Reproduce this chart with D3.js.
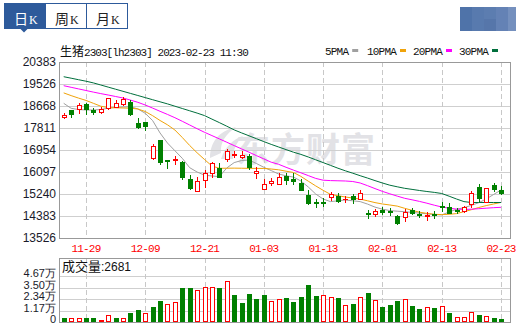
<!DOCTYPE html>
<html>
<head>
<meta charset="utf-8">
<script src="https://cdn.jsdelivr.net/npm/d3@7"></script>
<style>
body { margin: 0; background: #fff; }
svg { display: block; }
</style>
</head>
<body>
<div id="chart"></div>
<script>
// data
var dates = ["2022-11-24","2022-11-25","2022-11-28","2022-11-29","2022-11-30","2022-12-01","2022-12-02","2022-12-05","2022-12-06","2022-12-07",
    "2022-12-08","2022-12-09","2022-12-12","2022-12-13","2022-12-14","2022-12-15","2022-12-16","2022-12-19","2022-12-20","2022-12-21",
    "2022-12-22","2022-12-23","2022-12-26","2022-12-27","2022-12-28","2022-12-29","2022-12-30","2023-01-03","2023-01-04","2023-01-05",
    "2023-01-06","2023-01-09","2023-01-10","2023-01-11","2023-01-12","2023-01-13","2023-01-16","2023-01-17","2023-01-18","2023-01-19",
    "2023-01-20","2023-01-30","2023-01-31","2023-02-01","2023-02-02","2023-02-03","2023-02-06","2023-02-07","2023-02-08","2023-02-09",
    "2023-02-10","2023-02-13","2023-02-14","2023-02-15","2023-02-16","2023-02-17","2023-02-20","2023-02-21","2023-02-22","2023-02-23"];

var openP = [18230,18513,18540,18747,18501,18423,18579,18642,18735,18813,
    18006,18045,16631,17344,16565,16577,16487,15813,15369,15774,
    16070,16265,16592,16775,16670,16721,16047,15424,15657,15630,
    15953,15813,15681,15201,14929,14948,15112,15162,15034,15174,
    15034,14488,14461,14617,14562,14395,14332,14605,14469,14383,
    14473,14784,14734,14617,14566,14851,15525,14917,15579,15396];
var closeP = [18318,18357,18708,18564,18423,18540,18980,18774,18953,18357,
    17851,17901,17110,16499,16520,16604,15891,15474,15747,16047,
    16436,15903,16916,16799,16772,16304,16148,15618,15759,15914,
    15797,15759,15396,14901,14890,14909,15240,14968,15057,15034,
    15279,14461,14590,14551,14539,14098,14551,14488,14420,14440,
    14420,14745,14512,14578,14722,15291,15085,15462,15447,15267];
var highP = [18385,18530,18774,18798,18591,18618,18990,18891,19020,18903,
    18201,18060,17200,17350,16570,16721,16526,15981,15914,16175,
    16499,16436,16994,16916,16916,16799,16281,15813,15875,16047,
    16047,16047,15813,15396,15034,15073,15330,15291,15162,15240,
    15396,14617,14644,14722,14683,14422,14644,14683,14566,14551,
    14590,14929,14901,14683,14773,15369,15630,15465,15657,15552];
var lowP = [18220,18252,18384,18345,18345,18384,18570,18642,18708,18318,
    17800,17734,16620,16421,16265,16398,15825,15423,15369,15525,
    15903,15891,16538,16670,16660,16226,15852,15420,15579,15625,
    15630,15618,15390,14851,14746,14773,15007,14917,14940,14878,
    15030,14293,14383,14461,14422,14090,14200,14480,14332,14227,
    14293,14590,14488,14512,14527,14746,14956,14915,15369,15240];
var prevClose = 18400;

var volume = [4000,3700,3700,4000,4000,2400,6700,4000,3700,8700,
    11700,8700,15000,21800,18400,20400,34800,34800,32400,35400,
    35400,34800,41900,27800,18800,28800,23800,27800,21800,23800,
    24800,20800,25800,37900,26800,27800,25800,24800,16800,17800,
    25800,29100,22800,15100,16800,21100,23800,16100,12800,14800,
    13800,16400,9000,4700,4700,10300,6700,5700,4000,2681];

var ma5 = [18774,18579,18532,18513,18513,18532,18583,18614,18630,18641,
    18556,18384,18100,17617,17227,16927,16631,16265,16097,15973,
    15942,15918,16253,16464,16545,16565,16429,16281,16152,16019,
    15949,15899,15747,15513,15240,15045,14944,14975,15007,14975,
    14944,14847,14730,14648,14594,14570,14551,14523,14496,14469,
    14445,14426,14539,14644,14707,14796,14901,15045,15221,15396];
var ma10 = [19179,19074,18977,18887,18774,18661,18606,18599,18591,18583,
    18552,18454,18291,18104,17936,17734,17442,17130,16845,16584,
    16331,16242,16245,16248,16244,16240,16238,16235,16214,16183,
    16129,16078,15926,15739,15556,15384,15225,15174,15123,15084,
    15042,14975,14905,14851,14812,14769,14683,14605,14531,14485,
    14449,14438,14449,14477,14551,14629,14714,14788,14851,14913];
var ma20 = [19460,19397,19335,19273,19210,19152,19097,19039,18980,18899,
    18813,18708,18587,18462,18341,18213,18073,17929,17784,17644,
    17516,17387,17258,17126,16997,16869,16736,16608,16479,16397,
    16281,16171,16066,15957,15848,15778,15762,15755,15747,15727,
    15669,15564,15451,15342,15248,15158,15073,15014,14952,14882,
    14804,14734,14687,14652,14640,14648,14668,14687,14707,14722];
var ma30 = [19810,19752,19693,19635,19569,19487,19405,19323,19241,19160,
    19078,18996,18914,18832,18751,18661,18571,18482,18392,18295,
    18158,18022,17882,17738,17621,17508,17395,17282,17173,17071,
    16970,16869,16783,16682,16573,16464,16355,16245,16144,16051,
    15953,15860,15762,15669,15583,15521,15462,15420,15377,15338,
    15303,15260,15155,15045,14944,14909,14909,14909,14909,14909];

var priceTicks = [13526,14383,15240,16097,16954,17811,18668,19526,20383];
var volTicks = [0,11675,23350,35025,46700];
var volTickLabels = ["0","1.17万","2.34万","3.50万","4.67万"];
var dateTicks = ["2022-11-29","2022-12-09","2022-12-21","2023-01-03","2023-01-13","2023-02-01","2023-02-13","2023-02-23"];
var maNames = ["5PMA","10PMA","20PMA","30PMA"];
var tabNames = ["日","周","月"];

var RED = "#ff0000", GREEN = "#008000";
var maColors = ["#a0a0a0","#f0a30a","#ff00ff","#006f3c"];
var CJK = "'Noto Sans CJK SC', sans-serif";
var MONO = "'Liberation Mono', 'DejaVu Sans Mono', monospace";
var SANS = "'Liberation Sans', Arial, sans-serif";

var svgWidth = 516, svgHeight = 328;
var plotLeft = 59, plotRight = 510;
var priceTop = 62, priceBottom = 238;
var volFrameTop = 258, volTop = 276, volBottom = 322;

var svg = d3.select("#chart").append("svg")
    .attr("width", svgWidth)
    .attr("height", svgHeight);

// scales
var xScale = d3.scalePoint().domain(dates).range([63.7, 501]);
var yScale = d3.scaleLinear().domain([13526, 20383]).range([priceBottom, priceTop]);
var vScale = d3.scaleLinear().domain([0, 46700]).range([volBottom, volTop]);

function px(v) { return Math.round(v) + 0.5; }

// tabs
var tabs = svg.append("g");
tabNames.forEach(function(name, i) {
    var x0 = 4 + i * 41;
    tabs.append("rect")
        .attr("x", x0 + 0.5).attr("y", 3.5)
        .attr("width", 41).attr("height", 25)
        .attr("fill", i === 0 ? "#2d5a9b" : "#fff")
        .attr("stroke", "#2d5a9b");
    var t = tabs.append("text")
        .attr("x", x0 + 10).attr("y", 24)
        .attr("fill", i === 0 ? "#fff" : "#222");
    t.append("tspan").style("font-family", CJK).style("font-size", "14px").text(name);
    t.append("tspan").style("font-family", "'Liberation Serif', serif").style("font-size", "12px").attr("dx", 1).text("K");
});
tabs.append("path").attr("d", "M20.5,29 L27.5,29 L24,32.5 Z").attr("fill", "#2d5a9b");

// blurred corner image
var mosaic = [[460,7,12,24,"#4f73a9"],[472,7,12,24,"#587aae"],[484,7,12,12,"#5c7db0"],[484,19,12,12,"#5676aa"],
    [496,7,12,24,"#6482b5"],[508,7,8,24,"#7590be"]];
svg.append("g").selectAll("rect").data(mosaic).enter().append("rect")
    .attr("x", d => d[0]).attr("y", d => d[1]).attr("width", d => d[2]).attr("height", d => d[3])
    .attr("fill", d => d[4]);

// title
var title = svg.append("text").attr("x", 60).attr("y", 56).attr("fill", "#111");
title.append("tspan").style("font-family", CJK).style("font-size", "12px").text("生猪");
title.append("tspan").style("font-family", MONO).style("font-size", "11px").style("letter-spacing", "-0.95px")
    .text("2303[lh2303] 2023-02-23 11:30");

// MA legend
var legendX = [325, 367, 413, 459];
var legend = svg.append("g");
maNames.forEach(function(name, i) {
    legend.append("text")
        .attr("x", legendX[i]).attr("y", 55)
        .style("font-family", MONO).style("font-size", "11px").style("letter-spacing", "-0.8px")
        .attr("fill", "#111")
        .text(name);
    legend.append("rect")
        .attr("x", legendX[i] + name.length * 5.8 + 4).attr("y", 49)
        .attr("width", 6).attr("height", 3)
        .attr("fill", maColors[i]);
});

// watermark
var wm = svg.append("g").attr("fill", "#e2e2e6");
wm.append("path").attr("d", "M210,158 C210,142 219,131 236,127 C226,134 220,142 221,153 Z M221,159 C225,147 233,139 243,136 C236,143 233,150 233,159 Z");
wm.append("text")
    .attr("x", 236).attr("y", 162)
    .style("font-family", CJK).style("font-size", "34px").style("font-weight", "bold")
    .style("letter-spacing", "1px")
    .text("东方财富");

// gridlines
var grid = svg.append("g");
grid.selectAll(".hp").data(priceTicks).enter().append("line")
    .attr("x1", plotLeft).attr("x2", plotRight)
    .attr("y1", d => px(yScale(d))).attr("y2", d => px(yScale(d)))
    .attr("stroke", "#cfcfcf");
grid.selectAll(".hv").data(volTicks.slice(1)).enter().append("line")
    .attr("x1", plotLeft).attr("x2", plotRight)
    .attr("y1", d => px(vScale(d))).attr("y2", d => px(vScale(d)))
    .attr("stroke", "#cfcfcf");
dateTicks.forEach(function(d) {
    var x = px(xScale(d));
    grid.append("line").attr("x1", x).attr("x2", x).attr("y1", priceTop).attr("y2", priceBottom)
        .attr("stroke", "#c8c8c8").attr("stroke-dasharray", "5,3");
    grid.append("line").attr("x1", x).attr("x2", x).attr("y1", volFrameTop).attr("y2", volBottom)
        .attr("stroke", "#c8c8c8").attr("stroke-dasharray", "5,3");
});

// frames
var frame = svg.append("g").attr("stroke", "#999").attr("fill", "none");
frame.append("rect").attr("x", plotLeft + 0.5).attr("y", priceTop + 0.5)
    .attr("width", plotRight - plotLeft).attr("height", priceBottom - priceTop);
frame.append("rect").attr("x", plotLeft + 0.5).attr("y", volFrameTop + 0.5)
    .attr("width", plotRight - plotLeft).attr("height", volBottom - volFrameTop);

// axes
var yAxis = d3.axisLeft(yScale).tickValues(priceTicks).tickSize(0).tickPadding(3).tickFormat(d3.format("d"));
var gy = svg.append("g").attr("transform", `translate(${plotLeft}, 0)`).call(yAxis);
gy.select(".domain").remove();
gy.selectAll("text").style("font-family", SANS).style("font-size", "12px").attr("fill", "#1a1a2a");

var vAxis = d3.axisLeft(vScale).tickValues(volTicks).tickSize(0).tickPadding(3)
    .tickFormat((d, i) => volTickLabels[i]);
var gv = svg.append("g").attr("transform", `translate(${plotLeft}, 0)`).call(vAxis);
gv.select(".domain").remove();
gv.selectAll("text").attr("dy", "0.05em").style("font-family", SANS).style("font-size", "11px").attr("fill", "#1a1a2a");

// date labels
svg.append("g").selectAll("text").data(dateTicks).enter().append("text")
    .attr("x", d => xScale(d)).attr("y", 251.5)
    .attr("text-anchor", "middle")
    .style("font-family", MONO).style("font-size", "11px").style("letter-spacing", "-0.8px")
    .attr("fill", RED)
    .text(d => d.slice(5));

// volume label
var vl = svg.append("text").attr("x", 62).attr("y", 271).attr("fill", "#111");
vl.append("tspan").style("font-family", CJK).style("font-size", "13px").text("成交量");
vl.append("tspan").style("font-family", SANS).style("font-size", "12px").text(":" + volume[volume.length - 1]);

// moving averages
var mas = [ma5, ma10, ma20, ma30];
var maLine = d3.line().x((d, i) => xScale(dates[i])).y(d => yScale(d));
mas.forEach(function(arr, k) {
    svg.append("path").datum(arr)
        .attr("d", maLine)
        .attr("fill", "none")
        .attr("stroke", maColors[k])
        .attr("stroke-width", 1);
});

// candles
var candles = svg.append("g");
dates.forEach(function(d, i) {
    var cx = Math.round(xScale(d));
    var up = closeP[i] >= openP[i];
    var col = up ? RED : GREEN;
    var yo = Math.round(yScale(openP[i])), yc = Math.round(yScale(closeP[i]));
    var yh = Math.round(yScale(highP[i])), yl = Math.round(yScale(lowP[i]));
    var top = Math.min(yo, yc), bot = Math.max(yo, yc);
    candles.append("line")
        .attr("x1", cx + 0.5).attr("x2", cx + 0.5)
        .attr("y1", yh).attr("y2", yl + 1)
        .attr("stroke", col);
    if (bot - top < 1) {
        candles.append("line")
            .attr("x1", cx - 2).attr("x2", cx + 3)
            .attr("y1", top + 0.5).attr("y2", top + 0.5)
            .attr("stroke", col);
    } else if (up) {
        candles.append("rect")
            .attr("x", cx - 1.5).attr("y", top + 0.5)
            .attr("width", 4).attr("height", bot - top)
            .attr("fill", "#fff").attr("stroke", col);
    } else {
        candles.append("rect")
            .attr("x", cx - 2).attr("y", top)
            .attr("width", 5).attr("height", bot - top + 1)
            .attr("fill", col);
    }
});

// volume bars (colour from close against previous close)
var bars = svg.append("g");
dates.forEach(function(d, i) {
    var cx = Math.round(xScale(d));
    var before = i === 0 ? prevClose : closeP[i - 1];
    var up = closeP[i] > before;
    var yt = Math.round(vScale(volume[i]));
    if (up) {
        bars.append("rect")
            .attr("x", cx - 1.5).attr("y", yt + 0.5)
            .attr("width", 4).attr("height", Math.max(0, volBottom - yt - 1))
            .attr("fill", "#fff").attr("stroke", RED);
    } else {
        bars.append("rect")
            .attr("x", cx - 2).attr("y", yt)
            .attr("width", 5).attr("height", volBottom - yt)
            .attr("fill", GREEN);
    }
});
</script>
</body>
</html>
